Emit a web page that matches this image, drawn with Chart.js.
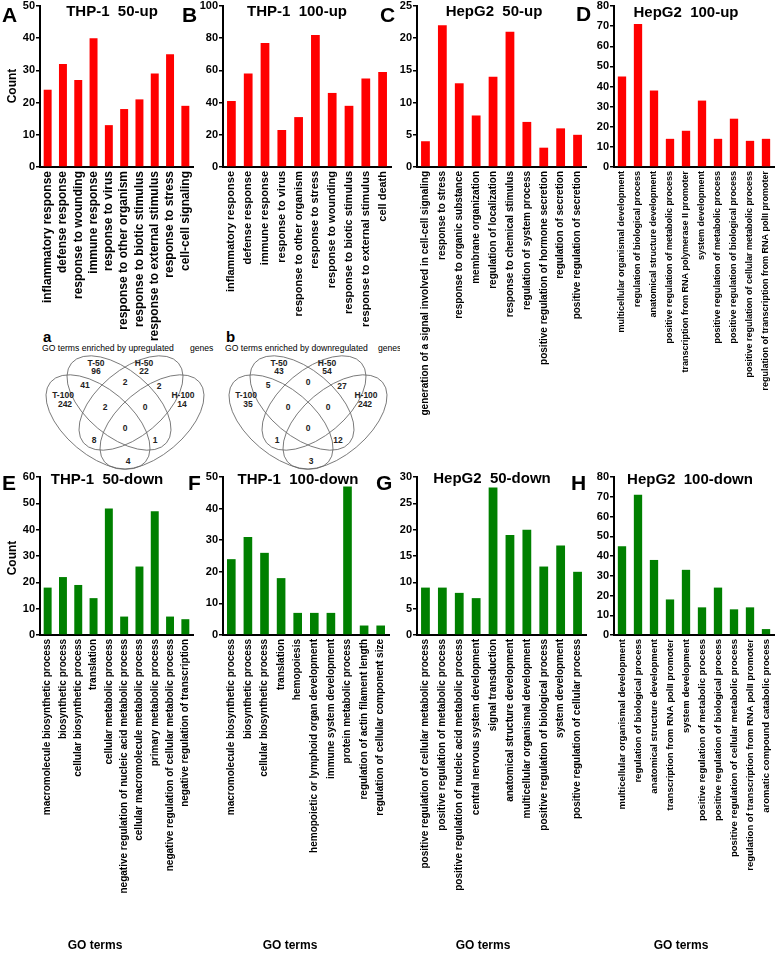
<!DOCTYPE html>
<html>
<head>
<meta charset="utf-8">
<script src="https://cdn.jsdelivr.net/npm/chart.js@4.4.0/dist/chart.umd.min.js"></script>
<style>
    html, body { margin: 0; padding: 0; background: #fff; }
    body { width: 778px; height: 967px; position: relative; overflow: hidden; font-family: Arial, "Liberation Sans", sans-serif; }
    canvas { position: absolute; }
    .t { position: absolute; white-space: pre; line-height: 1; color: #000; }
    #venn { position: absolute; left: 0; top: 0; }
</style>
</head>
<body>
<svg id="venn" width="400" height="480" viewBox="0 0 400 480"></svg>
<script>
// ---------------------------------------------------------
// DATA
// ---------------------------------------------------------
const thp50upTerms = ['inflammatory response', 'defense response', 'response to wounding', 'immune response', 'response to virus',
    'response to other organism', 'response to biotic stimulus', 'response to external stimulus', 'response to stress', 'cell-cell signaling'];
const thp50upCounts = [24, 32, 27, 40, 13, 18, 21, 29, 35, 19];

const thp100upTerms = ['inflammatory response', 'defense response', 'immune response', 'response to virus', 'response to other organism',
    'response to stress', 'response to wounding', 'response to biotic stimulus', 'response to external stimulus', 'cell death'];
const thp100upCounts = [41, 58, 77, 23, 31, 82, 46, 38, 55, 59];

const hep50upTerms = ['generation of a signal involved in cell-cell signaling', 'response to stress', 'response to organic substance',
    'membrane organization', 'regulation of localization', 'response to chemical stimulus', 'regulation of system process',
    'positive regulation of hormone secretion', 'regulation of secretion', 'positive regulation of secretion'];
const hep50upCounts = [4, 22, 13, 8, 14, 21, 7, 3, 6, 5];

const hep100upTerms = ['multicellular organismal development', 'regulation of biological process', 'anatomical structure development',
    'positive regulation of metabolic process', 'transcription from RNA polymerase II promoter', 'system development',
    'positive regulation of metabolic process', 'positive regulation of biological process',
    'positive regulation of cellular metabolic process', 'regulation of transcription from RNA polII promoter'];
const hep100upCounts = [45, 71, 38, 14, 18, 33, 14, 24, 13, 14];

const thp50downTerms = ['macromolecule biosynthetic process', 'biosynthetic process', 'cellular biosynthetic process', 'translation',
    'cellular metabolic process', 'negative regulation of nucleic acid metabolic process', 'cellular macromolecule metabolic process',
    'primary metabolic process', 'negative regulation of cellular metabolic process', 'negative regulation of transcription'];
const thp50downCounts = [18, 22, 19, 14, 48, 7, 26, 47, 7, 6];

const thp100downTerms = ['macromolecule biosynthetic process', 'biosynthetic process', 'cellular biosynthetic process', 'translation',
    'hemopoiesis', 'hemopoietic or lymphoid organ development', 'immune system development', 'protein metabolic process',
    'regulation of actin filament length', 'regulation of cellular component size'];
const thp100downCounts = [24, 31, 26, 18, 7, 7, 7, 47, 3, 3];

const hep50downTerms = ['positive regulation of cellular metabolic process', 'positive regulation of metabolic process',
    'positive regulation of nucleic acid metabolic process', 'central nervous system development', 'signal transduction',
    'anatomical structure development', 'multicellular organismal development', 'positive regulation of biological process',
    'system development', 'positive regulation of cellular process'];
const hep50downCounts = [9, 9, 8, 7, 28, 19, 20, 13, 17, 12];

const hep100downTerms = ['multicellular organismal development', 'regulation of biological process', 'anatomical structure development',
    'transcription from RNA polII promoter', 'system development', 'positive regulation of metabolic process',
    'positive regulation of biological process', 'positive regulation of cellular metabolic process',
    'regulation of transcription from RNA polII promoter', 'aromatic compound catabolic process'];
const hep100downCounts = [45, 71, 38, 18, 33, 14, 24, 13, 14, 3];

// y axis ranges [max, step]
const axisMax = [50, 100, 25, 80, 60, 50, 30, 80];
const axisStep = [10, 20, 5, 10, 10, 10, 5, 10];

// Venn region counts, region order:
// T50 only, H50 only, T100 only, H100 only, T50&T100, T50&H50, H50&H100, left-mid, right-mid, centre, lower-left, lower-right, bottom
const vennSets = ['T-50', 'H-50', 'T-100', 'H-100'];
const vennUpCounts = [96, 22, 242, 14, 41, 2, 2, 2, 0, 0, 8, 1, 4];
const vennDownCounts = [43, 54, 35, 242, 5, 0, 27, 0, 0, 0, 1, 12, 3];

// ---------------------------------------------------------
// HELPERS
// ---------------------------------------------------------
const FONT = 'Arial, "Liberation Sans", sans-serif';
const RED = '#ff0000';
const GREEN = '#008000';

const addText = (txt, x, baseline, size, opts = {}) => {
    const d = document.createElement('div');
    d.className = 't';
    d.textContent = txt;
    d.style.fontSize = size + 'px';
    d.style.fontWeight = opts.normal ? 'normal' : 'bold';
    d.style.top = (baseline - 0.8465 * size) + 'px';
    d.style.left = x + 'px';
    if (opts.center) d.style.transform = 'translateX(-50%)';
    document.body.appendChild(d);
    return d;
};

const addVertical = (txt, cx, cy, size) => {
    const d = document.createElement('div');
    d.className = 't';
    d.textContent = txt;
    d.style.fontSize = size + 'px';
    d.style.fontWeight = 'bold';
    d.style.left = cx + 'px';
    d.style.top = cy + 'px';
    d.style.transform = 'translate(-50%, -50%) rotate(-90deg)';
    document.body.appendChild(d);
};

const barPanel = (p) => {
    const c = document.createElement('canvas');
    const w = p.areaRight + 12 - p.left;
    const h = p.bottom - p.top;
    c.width = w;
    c.height = h;
    c.style.left = p.left + 'px';
    c.style.top = p.top + 'px';
    document.body.appendChild(c);

    return new Chart(c, {
        type: 'bar',
        data: {
            labels: p.labels,
            datasets: [{
                data: p.counts,
                backgroundColor: p.color,
                borderWidth: 0,
                barPercentage: 0.52,
                categoryPercentage: 1
            }]
        },
        options: {
            responsive: false,
            animation: false,
            devicePixelRatio: 1,
            layout: { padding: { top: p.areaTop - p.top, right: 12, left: 0, bottom: 0 } },
            plugins: { legend: { display: false }, tooltip: { enabled: false } },
            scales: {
                x: {
                    grid: { display: false, drawTicks: false },
                    border: { color: '#000', width: 2 },
                    ticks: {
                        autoSkip: false, maxRotation: 90, minRotation: 90, padding: 4, color: '#000',
                        font: { family: FONT, weight: 'bold', size: p.labelSize }
                    },
                    afterFit: (s) => { s.height = p.bottom - p.areaBottom; }
                },
                y: {
                    min: 0,
                    max: p.max,
                    grid: { drawOnChartArea: false, drawTicks: true, tickLength: 4, color: '#000', lineWidth: 1.5 },
                    border: { color: '#000', width: 2 },
                    ticks: { stepSize: p.step, padding: 1, color: '#000', font: { family: FONT, weight: 'bold', size: 11 } },
                    afterFit: (s) => { s.width = p.axisX - p.left; }
                }
            }
        }
    });
};

// ---------------------------------------------------------
// BAR PANELS
// ---------------------------------------------------------
const topRow = { top: -2, areaTop: 6, areaBottom: 167, bottom: 432 };
const botRow = { top: 469, areaTop: 477, areaBottom: 635, bottom: 967 };

const panels = [
    { row: topRow, left: 0, axisX: 40, areaRight: 193, labels: thp50upTerms, counts: thp50upCounts, color: RED, labelSize: 12 },
    { row: topRow, left: 195, axisX: 223, areaRight: 391, labels: thp100upTerms, counts: thp100upCounts, color: RED, labelSize: 11 },
    { row: topRow, left: 392, axisX: 417, areaRight: 586, labels: hep50upTerms, counts: hep50upCounts, color: RED, labelSize: 10 },
    { row: topRow, left: 588, axisX: 614, areaRight: 774, labels: hep100upTerms, counts: hep100upCounts, color: RED, labelSize: 9 },
    { row: botRow, left: 0, axisX: 40, areaRight: 193, labels: thp50downTerms, counts: thp50downCounts, color: GREEN, labelSize: 10 },
    { row: botRow, left: 195, axisX: 223, areaRight: 389, labels: thp100downTerms, counts: thp100downCounts, color: GREEN, labelSize: 10 },
    { row: botRow, left: 392, axisX: 417, areaRight: 586, labels: hep50downTerms, counts: hep50downCounts, color: GREEN, labelSize: 10 },
    { row: botRow, left: 588, axisX: 614, areaRight: 774, labels: hep100downTerms, counts: hep100downCounts, color: GREEN, labelSize: 9.5 }
];

panels.forEach((p, i) => {
    barPanel(Object.assign({}, p.row, p, { max: axisMax[i], step: axisStep[i] }));
});

// panel letters and titles
const letters = [['A', 2, 22], ['B', 182, 22], ['C', 380, 22], ['D', 576, 21],
                 ['E', 2, 490], ['F', 188, 490], ['G', 376, 490], ['H', 571, 490]];
letters.forEach(([l, x, y]) => addText(l, x, y, 21));

const titles = [['THP-1  50-up', 112, 16], ['THP-1  100-up', 297, 16], ['HepG2  50-up', 494, 16], ['HepG2  100-up', 686, 17],
                ['THP-1  50-down', 107, 484], ['THP-1  100-down', 298, 484], ['HepG2  50-down', 492, 483], ['HepG2  100-down', 690, 484]];
titles.forEach(([t, x, y]) => addText(t, x, y, 15, { center: true }));

addVertical('Count', 12, 86, 12);
addVertical('Count', 12, 558, 12);

[95, 290, 483, 681].forEach(x => addText('GO terms', x, 949, 12, { center: true }));

// ---------------------------------------------------------
// VENN DIAGRAMS
// ---------------------------------------------------------
const svg = document.getElementById('venn');
const NS = 'http://www.w3.org/2000/svg';
const svgEl = (tag, attrs, text) => {
    const e = document.createElementNS(NS, tag);
    Object.entries(attrs).forEach(([k, v]) => e.setAttribute(k, v));
    if (text !== undefined) e.textContent = text;
    svg.appendChild(e);
    return e;
};

// region label centres for the left diagram
const regionPos = [[96, 371], [144, 371], [65, 404], [182, 404], [85, 385], [125, 382], [159, 386],
                   [105, 407], [145, 407], [125, 428], [94, 440], [155, 440], [128, 461]];
const setLabelPos = [[96, 363], [144, 363], [63, 395], [183, 395]];

const drawVenn = (dx, letter, title, genesX, counts) => {
    const ell = [[98, 422, 40], [119, 403, 40], [131, 403, -40], [152, 422, -40]];
    ell.forEach(([cx, cy, rot]) => {
        svgEl('ellipse', {
            cx: cx + dx, cy, rx: 62, ry: 33,
            transform: `rotate(${rot} ${cx + dx} ${cy})`,
            fill: 'none', stroke: '#666', 'stroke-width': 0.8
        });
    });
    svgEl('text', { x: 43 + dx, y: 342, 'font-family': FONT, 'font-size': 15, 'font-weight': 'bold' }, letter);
    svgEl('text', { x: 42 + dx, y: 351, 'font-family': FONT, 'font-size': 8.6 }, title);
    svgEl('text', { x: genesX, y: 351, 'font-family': FONT, 'font-size': 8.6 }, 'genes');
    vennSets.forEach((s, i) => {
        svgEl('text', { x: setLabelPos[i][0] + dx, y: setLabelPos[i][1] + 3, 'text-anchor': 'middle',
            'font-family': FONT, 'font-size': 8.5, 'font-weight': 'bold', fill: '#222' }, s);
    });
    counts.forEach((v, i) => {
        svgEl('text', { x: regionPos[i][0] + dx, y: regionPos[i][1] + 3, 'text-anchor': 'middle',
            'font-family': FONT, 'font-size': 8.5, 'font-weight': 'bold', fill: '#222' }, String(v));
    });
};

drawVenn(0, 'a', 'GO terms enriched by upregulated', 190, vennUpCounts);
drawVenn(183, 'b', 'GO terms enriched by downregulated', 378, vennDownCounts);
</script>
</body>
</html>
